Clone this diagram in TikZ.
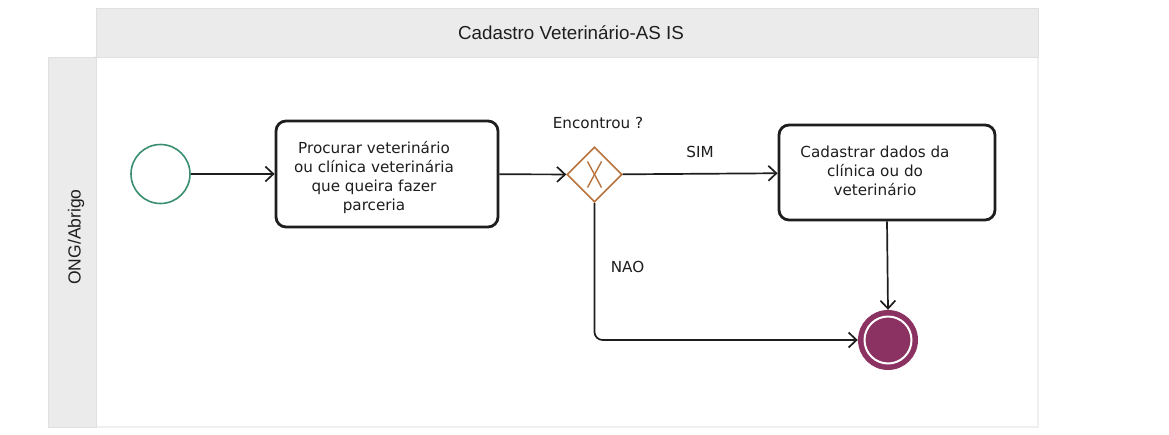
\documentclass[tikz,border=0pt]{standalone}
\usepackage{fontspec}
\setmainfont{DejaVu Sans}
\newfontfamily\arialfont{Liberation Sans}
\usetikzlibrary{shapes.geometric,arrows.meta}
\definecolor{lanefill}{HTML}{EBEBEB}
\definecolor{laneline}{HTML}{E0E0E0}
\definecolor{bodyline}{HTML}{F0F0F0}
\definecolor{startc}{HTML}{3A8F6F}
\definecolor{gwc}{HTML}{B8733D}
\definecolor{endc}{HTML}{8B3262}
\definecolor{ink}{HTML}{1E1E1E}
\tikzset{
  lane/.style={fill=lanefill, draw=laneline, line width=1pt},
  taskbox/.style={draw=ink, rectangle, rounded corners=10pt, line width=2.8pt, inner sep=0pt},
  tasktext/.style={align=center, font=\fontsize{15.2}{19}\selectfont, text=ink, inner sep=0pt},
  lbl/.style={font=\fontsize{15.2}{19}\selectfont, text=ink, inner sep=0pt},
  flow/.style={draw=ink, line width=1.7pt, -{Straight Barb[length=8pt,width=15pt,line width=1.7pt]}},
}
\begin{document}
\begin{tikzpicture}[x=1pt,y=-1pt]
\useasboundingbox (0,0) rectangle (1169,434);
% pool
\draw[draw=bodyline, line width=1.5pt, fill=white] (96,57) rectangle (1038,427);
\draw[lane] (96,8) rectangle (1038,57);
\draw[lane] (48,57) rectangle (96,427);
\node[inner sep=0pt, font=\arialfont\fontsize{18.8}{22}\selectfont, text=ink] (title) at (571,33) {Cadastro Veterinário-AS IS};
\node[inner sep=0pt, rotate=90, font=\arialfont\fontsize{17.5}{21}\selectfont, text=ink] (lanelabel) at (76,237) {ONG/Abrigo};
% nodes
\node[circle, draw=startc, line width=1.6pt, minimum size=59pt, inner sep=0pt] (start) at (160.5,174) {};
\node[taskbox, minimum width=222pt, minimum height=106pt] (t1) at (387,174) {};
\node[tasktext] (t1text) at (374,177) {Procurar veterinário\\ou clínica veterinária\\que queira fazer\\parceria};
\node[diamond, draw=gwc, line width=1.6pt, minimum width=55pt, minimum height=55pt, inner sep=0pt] (gw) at (594.5,174.5) {};
\draw[gwc, line width=1.4pt] ([shift={(-7,-13)}]gw.center) -- ([shift={(7,13)}]gw.center);
\draw[gwc, line width=1.4pt] ([shift={(7,-13)}]gw.center) -- ([shift={(-7,13)}]gw.center);
\node[lbl] (gwlabel) at (598,123) {Encontrou ?};
\node[taskbox, minimum width=216pt, minimum height=95pt] (t2) at (887,172.5) {};
\node[tasktext] (t2text) at (875,171) {Cadastrar dados da\\clínica ou do\\veterinário};
\node[circle, fill=endc, minimum size=60pt, inner sep=0pt] (end) at (888,340) {};
\draw[white, line width=2pt] (end.center) circle (23.5);
% flows
\draw[flow] (start) -- (t1);
\draw[flow] (t1) -- (gw);
\draw[flow] (gw) -- node[lbl, midway, yshift=22pt] (sim) {SIM} (t2);
\draw[flow, rounded corners=8pt] (gw.south) |- node[lbl, pos=0.235, xshift=33pt] (nao) {NAO} (end.west);
\draw[flow] (t2.south) -- (end.north);
\end{tikzpicture}
\end{document}
